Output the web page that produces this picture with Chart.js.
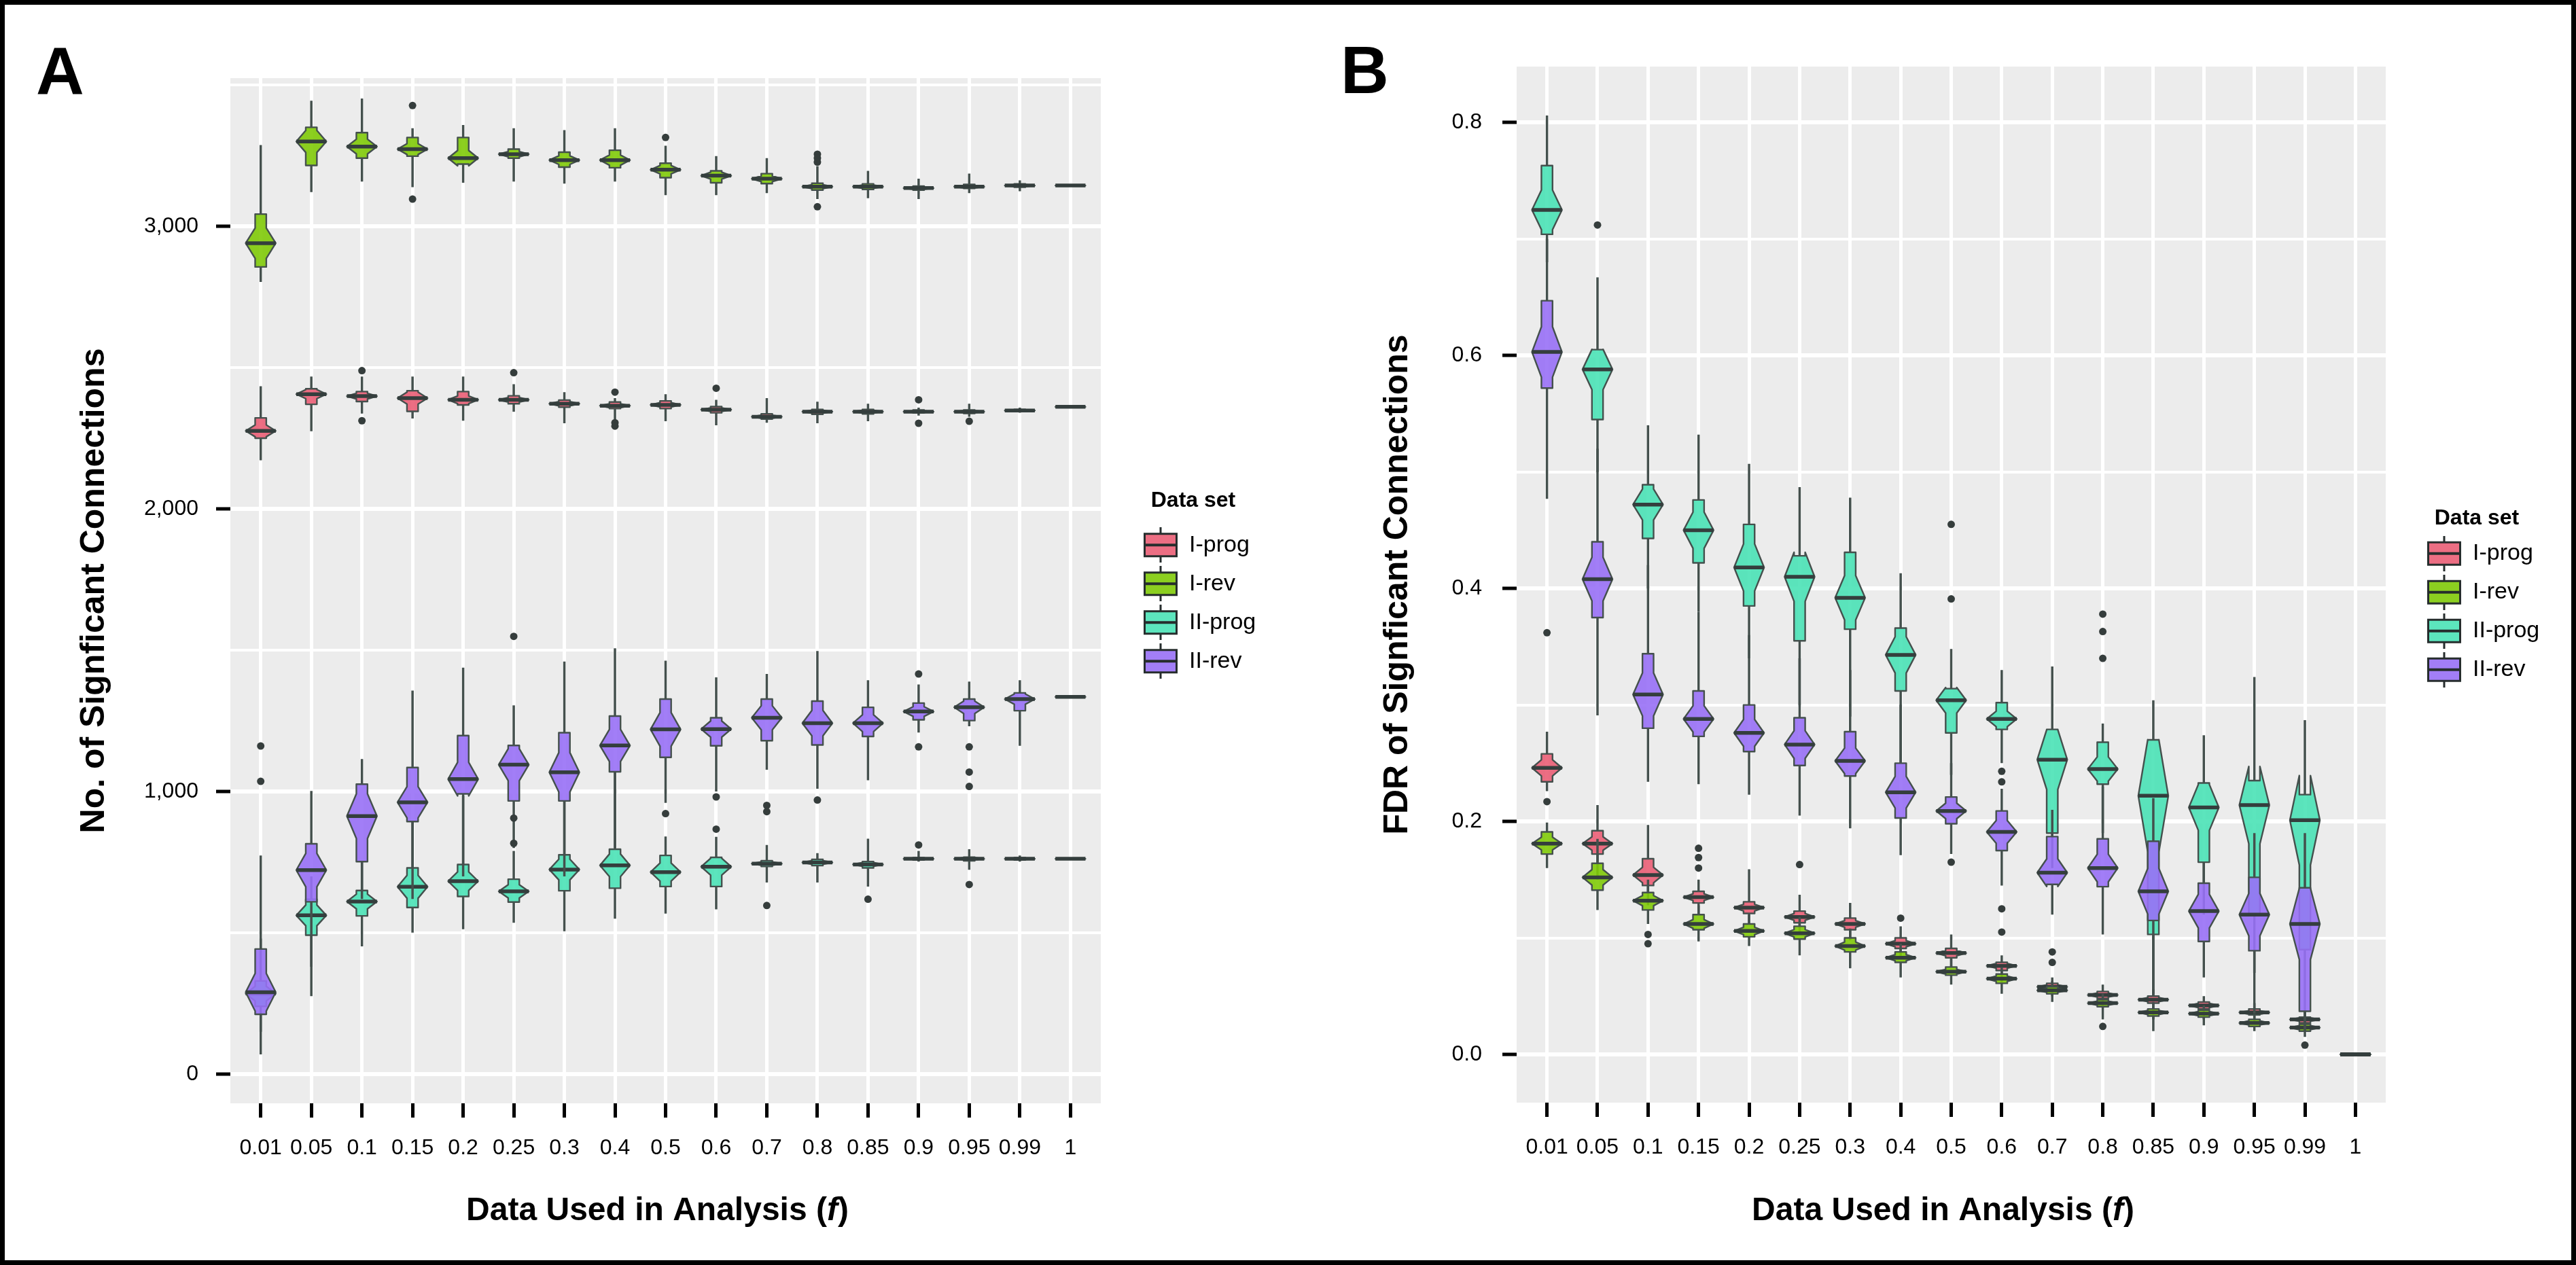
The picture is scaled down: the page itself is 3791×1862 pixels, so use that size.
<!DOCTYPE html>
<html>
<head>
<meta charset="utf-8">
<title>Significant connections and FDR by fraction of data used</title>
<script src="https://cdn.jsdelivr.net/npm/chart.js@4.4.1/dist/chart.umd.min.js"></script>
<style>
  html, body { margin: 0; padding: 0; background: #fff; }
  body { width: 3791px; height: 1862px; position: relative; overflow: hidden; }
  canvas { position: absolute; top: 0; }
  #chartA { left: 0; }
  #chartB { left: 1900px; }
  #frame { position: absolute; left: 0; top: 0; width: 3791px; height: 1862px;
           box-sizing: border-box; border: 7px solid #000; pointer-events: none; }
</style>
</head>
<body>
<canvas id="chartA" width="1900" height="1862" style="width:1900px;height:1862px"></canvas>
<canvas id="chartB" width="1891" height="1862" style="width:1891px;height:1862px"></canvas>
<div id="frame"></div>
<script>
// fraction of the data used in each resampling run
const categories = ['0.01', '0.05', '0.1', '0.15', '0.2', '0.25', '0.3', '0.4', '0.5',
                    '0.6', '0.7', '0.8', '0.85', '0.9', '0.95', '0.99', '1'];
const seriesNames = ['I-prog', 'I-rev', 'II-prog', 'II-rev'];

// Panel A - number of significant connections
// each row: [lower whisker, Q1, median, Q3, upper whisker]
const countIProg = [
  [2172, 2250, 2276, 2322, 2434], [2275, 2370, 2406, 2425, 2468], [2337, 2380, 2399, 2415, 2468],
  [2320, 2345, 2392, 2418, 2468], [2312, 2368, 2386, 2415, 2468], [2344, 2372, 2386, 2400, 2441],
  [2303, 2360, 2372, 2385, 2413], [2316, 2355, 2365, 2378, 2392], [2310, 2355, 2368, 2382, 2406],
  [2296, 2340, 2351, 2362, 2386], [2305, 2318, 2326, 2336, 2392], [2303, 2335, 2344, 2352, 2379],
  [2310, 2336, 2344, 2352, 2372], [2330, 2340, 2344, 2350, 2358], [2326, 2338, 2344, 2350, 2372],
  [2340, 2345, 2348, 2352, 2358], [2361, 2361, 2361, 2361, 2361]
];
const countIRev = [
  [2803, 2856, 2940, 3043, 3287], [3121, 3215, 3300, 3350, 3444], [3158, 3241, 3282, 3331, 3452],
  [3138, 3248, 3273, 3314, 3347], [3154, 3220, 3241, 3314, 3358], [3158, 3241, 3255, 3273, 3347],
  [3151, 3209, 3234, 3262, 3340], [3158, 3207, 3234, 3269, 3347], [3110, 3172, 3200, 3223, 3285],
  [3110, 3154, 3179, 3196, 3248], [3117, 3151, 3168, 3186, 3241], [3096, 3128, 3140, 3152, 3213],
  [3099, 3130, 3140, 3150, 3196], [3096, 3128, 3135, 3142, 3168], [3117, 3134, 3140, 3148, 3186],
  [3124, 3138, 3144, 3150, 3162], [3144, 3144, 3144, 3144, 3144]
];
const countIIProg = [
  [150, 240, 285, 330, 480], [380, 492, 562, 619, 700], [452, 560, 611, 650, 752],
  [501, 590, 663, 730, 894], [513, 629, 683, 742, 985], [536, 609, 647, 690, 790],
  [506, 649, 724, 776, 967], [550, 658, 739, 796, 1070], [568, 664, 715, 774, 841],
  [583, 664, 734, 767, 840], [678, 735, 745, 755, 811], [678, 738, 749, 760, 782],
  [664, 730, 742, 752, 833], [752, 758, 762, 766, 790], [723, 755, 762, 768, 796],
  [752, 758, 762, 766, 774], [762, 762, 762, 762, 762]
];
const countIIRev = [
  [70, 212, 290, 443, 774], [276, 610, 722, 815, 1002], [620, 752, 913, 1026, 1115],
  [620, 894, 962, 1085, 1357], [700, 992, 1044, 1198, 1438], [800, 967, 1095, 1163, 1305],
  [700, 967, 1068, 1208, 1460], [800, 1070, 1163, 1267, 1507], [960, 1121, 1220, 1327, 1463],
  [1000, 1162, 1221, 1261, 1404], [1077, 1180, 1261, 1327, 1416], [1010, 1165, 1242, 1320, 1497],
  [1040, 1195, 1242, 1298, 1394], [1209, 1254, 1283, 1313, 1379], [1231, 1251, 1298, 1327, 1389],
  [1162, 1286, 1327, 1349, 1394], [1335, 1335, 1335, 1335, 1335]
];
// outliers: [category index, value]
const countIProgOut = [[2, 2489], [2, 2312], [5, 2482], [7, 2413], [7, 2305], [7, 2293],
                       [9, 2427], [13, 2386], [13, 2303], [14, 2310]];
const countIRevOut = [[3, 3427], [3, 3096], [8, 3314], [11, 3255], [11, 3241], [11, 3227], [11, 3069]];
const countIIProgOut = [[5, 906], [5, 817], [9, 867], [10, 597], [12, 619], [13, 811], [14, 671]];
const countIIRevOut = [[0, 1036], [0, 1161], [5, 1549], [8, 922], [9, 981], [10, 951], [10, 929],
                       [11, 970], [13, 1416], [13, 1158], [14, 1158], [14, 1069], [14, 1018]];
const countGrid = [0, 500, 1000, 1500, 2000, 2500, 3000, 3500];
const countLabels = ['0', '', '1,000', '', '2,000', '', '3,000', ''];

// Panel B - FDR of significant connections
const fdrIProg = [
  [0.226, 0.234, 0.246, 0.258, 0.277], [0.150, 0.172, 0.181, 0.192, 0.214], [0.128, 0.145, 0.154, 0.168, 0.197],
  [0.120, 0.130, 0.135, 0.140, 0.150], [0.112, 0.121, 0.126, 0.131, 0.159], [0.103, 0.113, 0.118, 0.123, 0.137],
  [0.098, 0.107, 0.112, 0.117, 0.130], [0.083, 0.091, 0.095, 0.100, 0.110], [0.075, 0.083, 0.087, 0.091, 0.103],
  [0.062, 0.072, 0.076, 0.079, 0.085], [0.050, 0.055, 0.058, 0.061, 0.066], [0.040, 0.048, 0.051, 0.054, 0.060],
  [0.030, 0.044, 0.047, 0.050, 0.056], [0.030, 0.039, 0.042, 0.045, 0.050], [0.026, 0.034, 0.036, 0.039, 0.044],
  [0.020, 0.027, 0.030, 0.032, 0.037], [0, 0, 0, 0, 0]
];
const fdrIRev = [
  [0.160, 0.172, 0.181, 0.191, 0.199], [0.124, 0.141, 0.152, 0.164, 0.185], [0.112, 0.124, 0.132, 0.139, 0.150],
  [0.097, 0.107, 0.112, 0.120, 0.128], [0.093, 0.101, 0.106, 0.112, 0.120], [0.085, 0.099, 0.104, 0.110, 0.118],
  [0.074, 0.088, 0.093, 0.100, 0.108], [0.066, 0.079, 0.083, 0.088, 0.095], [0.060, 0.068, 0.071, 0.075, 0.082],
  [0.052, 0.061, 0.065, 0.069, 0.075], [0.045, 0.052, 0.055, 0.058, 0.063], [0.030, 0.041, 0.044, 0.047, 0.052],
  [0.020, 0.033, 0.036, 0.039, 0.045], [0.025, 0.032, 0.035, 0.038, 0.042], [0.020, 0.024, 0.027, 0.030, 0.034],
  [0.015, 0.020, 0.023, 0.026, 0.030], [0, 0, 0, 0, 0]
];
const fdrIIProg = [
  [0.680, 0.704, 0.725, 0.763, 0.806], [0.500, 0.545, 0.588, 0.605, 0.667], [0.400, 0.443, 0.472, 0.489, 0.540],
  [0.380, 0.422, 0.450, 0.476, 0.532], [0.340, 0.385, 0.418, 0.455, 0.507], [0.300, 0.355, 0.410, 0.428, 0.487],
  [0.290, 0.365, 0.392, 0.431, 0.478], [0.250, 0.312, 0.343, 0.366, 0.413], [0.240, 0.276, 0.304, 0.314, 0.348],
  [0.250, 0.279, 0.288, 0.302, 0.330], [0.160, 0.190, 0.253, 0.279, 0.333], [0.190, 0.232, 0.245, 0.268, 0.284],
  [0.050, 0.103, 0.222, 0.270, 0.304], [0.120, 0.165, 0.212, 0.233, 0.274], [0.070, 0.120, 0.214, 0.235, 0.324],
  [0.020, 0.090, 0.201, 0.223, 0.287], [0, 0, 0, 0, 0]
];
const fdrIIRev = [
  [0.477, 0.572, 0.603, 0.647, 0.700], [0.291, 0.375, 0.408, 0.440, 0.520], [0.234, 0.280, 0.309, 0.344, 0.420],
  [0.232, 0.273, 0.288, 0.312, 0.380], [0.223, 0.260, 0.276, 0.300, 0.360], [0.205, 0.248, 0.266, 0.289, 0.340],
  [0.194, 0.239, 0.252, 0.277, 0.330], [0.171, 0.203, 0.225, 0.250, 0.300], [0.172, 0.198, 0.209, 0.221, 0.250],
  [0.145, 0.175, 0.191, 0.209, 0.228], [0.120, 0.146, 0.156, 0.187, 0.210], [0.103, 0.144, 0.160, 0.185, 0.230],
  [0.052, 0.115, 0.140, 0.183, 0.220], [0.066, 0.097, 0.123, 0.147, 0.165], [0.035, 0.089, 0.120, 0.152, 0.190],
  [0.020, 0.037, 0.112, 0.143, 0.190], [0, 0, 0, 0, 0]
];
const fdrIProgOut = [[0, 0.217], [3, 0.177], [3, 0.169], [3, 0.160], [5, 0.163], [7, 0.117]];
const fdrIRevOut = [[2, 0.103], [2, 0.095], [11, 0.024], [15, 0.008]];
const fdrIIProgOut = [[1, 0.712], [8, 0.455], [8, 0.391], [11, 0.378], [11, 0.363], [11, 0.340]];
const fdrIIRevOut = [[0, 0.362], [8, 0.165], [9, 0.243], [9, 0.234], [9, 0.125], [9, 0.105], [10, 0.088], [10, 0.079]];
const fdrGrid = [0, 0.1, 0.2, 0.3, 0.4, 0.5, 0.6, 0.7, 0.8];
const fdrLabels = ['0.0', '', '0.2', '', '0.4', '', '0.6', '', '0.8'];

// ---- drawing settings ----
const FONT = '"Liberation Sans", Arial, Helvetica, sans-serif';
Chart.defaults.font.family = FONT;
Chart.defaults.color = '#000';

const RUNS = 30;                          // resamples behind every box, sets the notch height
const NOTCH = 1.58 / Math.sqrt(RUNS);
const BOX_WIDTH = 0.22;                   // in category units
const NOTCH_WIDTH = 2.7;                  // width at the median relative to the box
const LEGEND_WIDTH = 192;
const seriesFills = ['rgba(234, 94, 118, 0.9)', 'rgba(128, 202, 8, 0.9)',
                     'rgba(74, 226, 182, 0.9)', 'rgba(152, 112, 246, 0.9)'];
const OUTLINE = '#44504d';
const MEDIAN_COLOR = '#343e3d';
const POINT_COLOR = '#353d3c';
const PANEL_BG = '#ececec';

function legendGlyph(fill) {
  const c = document.createElement('canvas');
  c.width = 52; c.height = 52;
  const g = c.getContext('2d');
  g.strokeStyle = '#262d2d';
  g.lineWidth = 3;
  g.beginPath();
  g.moveTo(26, 0); g.lineTo(26, 9);
  g.moveTo(26, 43); g.lineTo(26, 52);
  g.stroke();
  g.fillStyle = fill;
  g.fillRect(2, 9, 48, 34);
  g.strokeRect(2.5, 9.5, 47, 33);
  g.lineWidth = 4;
  g.beginPath(); g.moveTo(2, 26); g.lineTo(50, 26); g.stroke();
  return c;
}
const glyphs = seriesFills.map(legendGlyph);

// notched boxes (ggplot style), drawn through the chart's own scales
const notchedBoxes = {
  id: 'notchedBoxes',
  beforeDatasetsDraw(chart) {
    const {ctx, chartArea, scales: {x, y}} = chart;
    const sets = chart.data.datasets;
    ctx.save();
    ctx.beginPath();
    ctx.rect(chartArea.left, chartArea.top, chartArea.right - chartArea.left, chartArea.bottom - chartArea.top);
    ctx.clip();
    ctx.lineJoin = 'round';
    categories.forEach((cat, i) => {
      sets.forEach(ds => {
        const [lo, q1, med, q3, hi] = ds.stats[i];
        const nh = NOTCH * (q3 - q1);
        const xl = x.getPixelForValue(i - BOX_WIDTH / 2);
        const xr = x.getPixelForValue(i + BOX_WIDTH / 2);
        const xc = x.getPixelForValue(i);
        const ind = (1 - NOTCH_WIDTH) * (xr - xl) / 2;

        ctx.strokeStyle = OUTLINE;
        ctx.lineWidth = 3.5;
        ctx.beginPath();
        ctx.moveTo(xc, y.getPixelForValue(q3)); ctx.lineTo(xc, y.getPixelForValue(hi));
        ctx.moveTo(xc, y.getPixelForValue(q1)); ctx.lineTo(xc, y.getPixelForValue(lo));
        ctx.stroke();

        const pts = [[xl, q1], [xl, med - nh], [xl + ind, med], [xl, med + nh], [xl, q3],
                     [xr, q3], [xr, med + nh], [xr - ind, med], [xr, med - nh], [xr, q1]];
        ctx.beginPath();
        pts.forEach(([px, v], k) => {
          const py = y.getPixelForValue(v);
          if (k === 0) ctx.moveTo(px, py); else ctx.lineTo(px, py);
        });
        ctx.closePath();
        ctx.fillStyle = ds.boxFill;
        ctx.fill();
        ctx.lineWidth = 2.4;
        ctx.stroke();

        ctx.strokeStyle = MEDIAN_COLOR;
        ctx.lineWidth = 5.5;
        ctx.beginPath();
        ctx.moveTo(xl + ind, y.getPixelForValue(med));
        ctx.lineTo(xr - ind, y.getPixelForValue(med));
        ctx.stroke();
      });
    });
    ctx.restore();
  }
};

// grey panel, panel letter and x title with italic f
const panelDecor = {
  id: 'panelDecor',
  beforeDraw(chart) {
    const {ctx, chartArea: a} = chart;
    ctx.save();
    ctx.fillStyle = PANEL_BG;
    ctx.fillRect(a.left, a.top, a.right - a.left, a.bottom - a.top);
    ctx.restore();
  },
  afterDraw(chart, args, opts) {
    const {ctx, chartArea: a} = chart;
    ctx.save();
    ctx.fillStyle = '#000';
    ctx.textBaseline = 'alphabetic';
    ctx.textAlign = 'left';
    ctx.font = `bold ${opts.letterSize}px ${FONT}`;
    ctx.fillText(opts.letter, opts.letterX, opts.letterY);

    const parts = [['Data Used in Analysis (', ''], ['f', 'italic '], [')', '']];
    const fonts = parts.map(p => `${p[1]}bold 48px ${FONT}`);
    const widths = parts.map((p, k) => { ctx.font = fonts[k]; return ctx.measureText(p[0]).width; });
    let tx = (a.left + a.right) / 2 - 12 - widths.reduce((s, w) => s + w, 0) / 2;
    parts.forEach((p, k) => {
      ctx.font = fonts[k];
      ctx.fillText(p[0], tx, opts.titleY);
      tx += widths[k];
    });
    ctx.restore();
  }
};

function buildChart(id, p) {
  const datasets = p.stats.map((stats, k) => ({
    label: seriesNames[k],
    data: p.outliers[k].map(([i, v]) => ({x: i, y: v})),
    stats: stats,
    boxFill: seriesFills[k],
    yAxisID: 'y',
    pointRadius: 5.5,
    pointHoverRadius: 5.5,
    pointBackgroundColor: POINT_COLOR,
    pointBorderWidth: 0
  }));

  return new Chart(document.getElementById(id), {
    type: 'scatter',
    data: {datasets},
    options: {
      responsive: false,
      animation: false,
      events: [],
      layout: {padding: {left: 100, top: p.top, right: p.right, bottom: 0}},
      scales: {
        x: {
          type: 'linear', position: 'bottom', bounds: 'data',
          min: -0.6, max: categories.length - 0.4,
          afterBuildTicks: s => { s.ticks = categories.map((c, i) => ({value: i})); },
          afterFit: s => { s.height = p.xHeight; },
          ticks: {
            autoSkip: false, maxRotation: 0, minRotation: 0, padding: 26,
            font: {size: 32}, color: '#000',
            callback: (v, i) => categories[i]
          },
          grid: {color: '#fff', lineWidth: 5, tickColor: '#000', tickWidth: 5, tickLength: 21},
          border: {display: false}
        },
        y: {
          type: 'linear', position: 'left', bounds: 'data',
          min: p.yMin, max: p.yMax,
          afterBuildTicks: s => { s.ticks = p.grid.map(v => ({value: v})); },
          afterFit: s => { s.width = p.yWidth; },
          ticks: {
            padding: p.yPad, font: {size: 32}, color: '#000',
            callback: (v, i) => p.labels[i]
          },
          grid: {
            color: '#fff',
            lineWidth: c => (p.labels[c.index] ? 6 : 4),
            tickColor: c => (p.labels[c.index] ? '#000' : 'rgba(0,0,0,0)'),
            tickWidth: 5, tickLength: 21
          },
          border: {display: false},
          title: {
            display: true, text: p.yTitle, color: '#000',
            font: {size: 50, weight: 'bold'},
            padding: {top: p.yTitlePad, bottom: 0}
          }
        },
        yR: {
          type: 'linear', position: 'right', display: true,
          ticks: {display: false},
          grid: {display: false, drawTicks: false},
          border: {display: false},
          afterFit: s => { s.width = p.gap; }
        }
      },
      plugins: {
        tooltip: {enabled: false},
        legend: {
          position: 'right', align: 'center', fullSize: false, maxWidth: LEGEND_WIDTH,
          title: {
            display: true, text: 'Data set', position: 'center', color: '#000',
            font: {size: 32, weight: 'bold'},
            padding: {top: p.legendPadTop, bottom: p.legendPadBottom}
          },
          labels: {
            usePointStyle: true, pointStyleWidth: 50, padding: 23, color: '#000',
            font: {size: 34},
            generateLabels: chart => chart.data.datasets.map((ds, k) => ({
              text: ds.label, pointStyle: glyphs[k], datasetIndex: k, hidden: false,
              fontColor: '#000', lineWidth: 0, strokeStyle: 'rgba(0,0,0,0)', fillStyle: seriesFills[k]
            }))
          }
        },
        panelDecor: {letter: p.letter, letterX: p.letterX, letterY: p.letterY, letterSize: 98, titleY: 1796}
      }
    },
    plugins: [panelDecor, notchedBoxes]
  });
}

buildChart('chartA', {
  stats: [countIProg, countIRev, countIIProg, countIIRev],
  outliers: [countIProgOut, countIRevOut, countIIProgOut, countIIRevOut],
  grid: countGrid, labels: countLabels,
  yMin: -103, yMax: 3524, yTitle: 'No. of Signficant Connections',
  top: 115, right: 1900 - 1620 - 40 - LEGEND_WIDTH, gap: 40, xHeight: 238, yWidth: 239, yPad: 26, yTitlePad: 9,
  legendPadTop: -5, legendPadBottom: 3,
  letter: 'A', letterX: 53, letterY: 138
});

buildChart('chartB', {
  stats: [fdrIProg, fdrIRev, fdrIIProg, fdrIIRev],
  outliers: [fdrIProgOut, fdrIRevOut, fdrIIProgOut, fdrIIRevOut],
  grid: fdrGrid, labels: fdrLabels,
  yMin: -0.0414, yMax: 0.848, yTitle: 'FDR of Signficant Connections',
  top: 98, right: 1891 - 1611 - 38 - LEGEND_WIDTH, gap: 38, xHeight: 239, yWidth: 232, yPad: 30, yTitlePad: 27,
  legendPadTop: 52, legendPadBottom: -11,
  letter: 'B', letterX: 73, letterY: 137
});
</script>
</body>
</html>
